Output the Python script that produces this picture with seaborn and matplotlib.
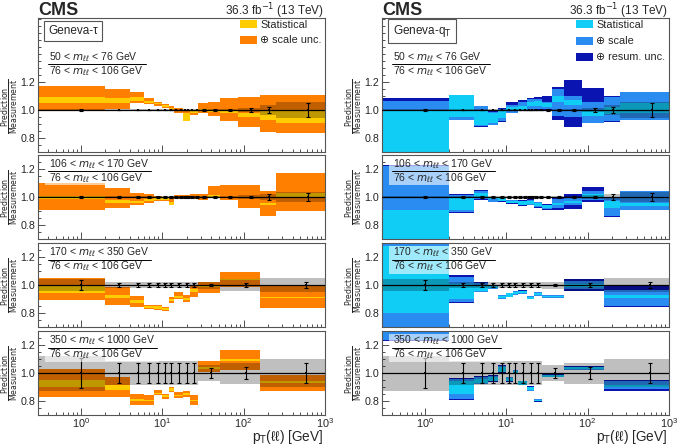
import numpy as np
import matplotlib
matplotlib.use('Agg')
import matplotlib.pyplot as plt
import seaborn as sns
from matplotlib.patches import Rectangle
from matplotlib.lines import Line2D
from matplotlib.ticker import MultipleLocator, FixedLocator

# pT(ll) bin edges [GeV]
edges_fine = [0, 2, 4, 6, 8, 10, 12, 14, 16, 18, 20, 22, 25, 28, 37, 52, 85, 160, 250, 1000]
edges_coarse = [0, 2, 4, 6, 8, 10, 12, 14, 18, 22, 28, 52, 160, 1000]

mass_labels = ['50 < $m_{\\ell\\ell}$ < 76 GeV', '106 < $m_{\\ell\\ell}$ < 170 GeV',
               '170 < $m_{\\ell\\ell}$ < 350 GeV', '350 < $m_{\\ell\\ell}$ < 1000 GeV']
ref_label = '76 < $m_{\\ell\\ell}$ < 106 GeV'

# measurement uncertainty (grey band) and data error bars
meas_unc_50 = [0.006, 0.004, 0.004, 0.004, 0.004, 0.004, 0.004, 0.004, 0.004, 0.004, 0.004, 0.004, 0.004, 0.005, 0.006, 0.01, 0.015, 0.035, 0.06]
meas_err_50 = [0.004, 0.003, 0.003, 0.003, 0.003, 0.003, 0.003, 0.003, 0.003, 0.003, 0.003, 0.003, 0.003, 0.004, 0.005, 0.008, 0.012, 0.023, 0.05]
meas_unc_106 = [0.01, 0.005, 0.005, 0.005, 0.005, 0.005, 0.005, 0.005, 0.005, 0.005, 0.005, 0.005, 0.005, 0.006, 0.007, 0.008, 0.012, 0.02, 0.035]
meas_err_106 = [0.008, 0.004, 0.004, 0.004, 0.004, 0.004, 0.004, 0.004, 0.004, 0.004, 0.004, 0.004, 0.004, 0.005, 0.006, 0.006, 0.01, 0.018, 0.027]
meas_unc_170 = [0.045, 0.02, 0.02, 0.02, 0.02, 0.02, 0.02, 0.02, 0.02, 0.02, 0.025, 0.04, 0.05]
meas_err_170 = [0.035, 0.012, 0.012, 0.012, 0.012, 0.012, 0.012, 0.012, 0.012, 0.012, 0.01, 0.015, 0.02]
meas_unc_350 = [0.125, 0.085, 0.085, 0.085, 0.085, 0.085, 0.085, 0.085, 0.085, 0.085, 0.06, 0.075, 0.1]
meas_err_350 = [0.11, 0.07, 0.07, 0.07, 0.07, 0.07, 0.07, 0.07, 0.07, 0.07, 0.035, 0.04, 0.07]

# Geneva-tau / measurement
tau_50_scale_lo = [0.99, 1.01, 1.05, 1.04, 1.03, 1.012, 0.995, 0.978, 0.978, 0.97, 0.97, 0.965, 0.965, 0.975, 0.955, 0.92, 0.88, 0.845, 0.835]
tau_50_scale_hi = [1.17, 1.148, 1.125, 1.085, 1.06, 1.045, 1.025, 1.012, 1.012, 1.0, 1.0, 1.0, 1.0, 1.05, 1.06, 1.085, 1.095, 1.105, 1.11]
tau_50_stat_lo = [1.05, 1.052, 1.067, 1.052, 1.04, 1.022, 1.005, 0.99, 0.99, 0.918, 0.918, 0.978, 0.978, 0.99, 0.985, 0.975, 0.952, 0.93, 0.905]
tau_50_stat_hi = [1.09, 1.083, 1.09, 1.067, 1.052, 1.034, 1.016, 1.0, 1.0, 0.976, 0.976, 0.99, 0.99, 1.005, 1.0, 0.99, 0.978, 0.99, 1.0]

tau_106_scale_lo = [0.91, 0.92, 0.945, 0.957, 0.97, 0.975, 0.945, 0.985, 0.985, 0.985, 0.985, 0.985, 0.985, 0.98, 0.993, 0.98, 0.92, 0.862, 0.9]
tau_106_scale_hi = [1.1, 1.064, 1.03, 1.02, 1.01, 1.0, 1.0, 1.015, 1.015, 1.015, 1.015, 1.02, 1.02, 1.02, 1.076, 1.083, 1.085, 1.04, 1.17]
tau_106_stat_lo = [0.985, 0.957, 0.96, 0.97, 0.98, 0.978, 0.945, 0.99, 0.99, 0.99, 0.99, 0.99, 0.99, 0.99, 1.0, 0.99, 0.99, 0.945, 0.99]
tau_106_stat_hi = [1.005, 0.98, 0.975, 0.985, 0.99, 0.99, 0.965, 1.0, 1.0, 1.0, 1.0, 1.0, 1.0, 1.0, 1.012, 1.0, 1.0, 0.958, 1.03]

tau_170_scale_lo = [0.89, 0.857, 0.84, 0.826, 0.82, 0.817, 0.869, 0.898, 0.88, 0.917, 0.94, 0.988, 0.833]
tau_170_scale_hi = [1.05, 0.988, 0.92, 0.857, 0.855, 0.84, 0.912, 0.948, 0.93, 1.0, 1.024, 1.095, 1.0]
tau_170_stat_lo = [0.945, 0.905, 0.874, 0.835, 0.83, 0.825, 0.885, 0.907, 0.895, 0.95, 0.985, 1.035, 0.905]
tau_170_stat_hi = [1.0, 0.929, 0.893, 0.85, 0.85, 0.835, 0.9, 0.921, 0.91, 0.97, 1.0, 1.045, 0.912]

tau_350_scale_lo = [0.83, 0.83, 0.77, 0.77, 0.84, 0.817, 0.864, 0.82, 0.83, 0.77, 1.007, 1.02, 0.87]
tau_350_scale_hi = [1.03, 0.97, 0.852, 0.84, 0.876, 0.852, 0.9, 0.864, 0.87, 0.84, 1.083, 1.162, 0.983]
tau_350_stat_lo = [0.9, 0.876, 0.797, 0.8, 0.85, 0.83, 0.875, 0.835, 0.845, 0.8, 1.03, 1.083, 0.93]
tau_350_stat_hi = [0.95, 0.912, 0.817, 0.81, 0.86, 0.84, 0.89, 0.845, 0.855, 0.81, 1.043, 1.102, 0.94]

# Geneva-qT / measurement
qt_50_stat_lo = [0.6, 0.952, 0.89, 0.905, 0.94, 0.99, 0.99, 1.0, 1.0, 1.03, 1.03, 1.03, 1.03, 1.02, 1.06, 1.035, 0.96, 0.97, 0.975]
qt_50_stat_hi = [1.0, 1.105, 1.0, 0.976, 0.99, 1.02, 1.02, 1.025, 1.025, 1.055, 1.055, 1.065, 1.065, 1.05, 1.1, 1.07, 1.0, 1.02, 1.05]
qt_50_scale_lo = [0.55, 0.93, 0.885, 0.893, 0.92, 0.98, 0.98, 0.995, 0.995, 1.0, 1.0, 1.01, 1.01, 1.01, 0.96, 0.95, 0.905, 0.92, 0.93]
qt_50_scale_hi = [1.067, 1.108, 1.025, 0.988, 1.01, 1.035, 1.035, 1.06, 1.06, 1.075, 1.075, 1.08, 1.08, 1.06, 1.15, 1.1, 1.06, 1.095, 1.13]
qt_50_resum_lo = [0.53, 0.925, 0.88, 0.89, 0.915, 0.975, 0.975, 0.99, 0.99, 0.99, 0.99, 1.0, 1.0, 0.99, 0.93, 0.88, 0.91, 0.915, 0.925]
qt_50_resum_hi = [1.084, 1.11, 1.03, 0.99, 1.015, 1.055, 1.055, 1.07, 1.07, 1.085, 1.085, 1.09, 1.09, 1.1, 1.165, 1.215, 1.155, 1.1, 1.132]

qt_106_stat_lo = [0.5, 0.91, 0.99, 0.985, 0.975, 0.96, 0.96, 0.945, 0.945, 0.95, 0.95, 0.933, 0.933, 0.925, 0.94, 0.96, 0.99, 0.92, 0.935]
qt_106_stat_hi = [0.91, 1.0, 1.03, 1.0, 0.99, 0.975, 0.975, 0.97, 0.97, 0.975, 0.975, 0.957, 0.957, 0.94, 0.96, 0.975, 1.02, 0.97, 0.96]
qt_106_scale_lo = [0.45, 0.89, 0.985, 0.965, 0.97, 0.955, 0.955, 0.94, 0.94, 0.945, 0.945, 0.93, 0.93, 0.914, 0.925, 0.945, 0.98, 0.865, 0.91]
qt_106_scale_hi = [1.22, 1.015, 1.04, 0.998, 0.995, 0.98, 0.98, 0.975, 0.975, 0.98, 0.98, 0.962, 0.962, 0.945, 0.985, 0.99, 1.04, 0.995, 1.04]
qt_106_resum_lo = [0.44, 0.885, 0.98, 0.962, 0.967, 0.95, 0.95, 0.935, 0.935, 0.94, 0.94, 0.925, 0.925, 0.91, 0.91, 0.915, 0.965, 0.86, 0.905]
qt_106_resum_hi = [1.232, 1.022, 1.048, 1.0, 0.998, 0.982, 0.982, 0.978, 0.978, 0.985, 0.985, 0.965, 0.965, 0.948, 1.0, 1.02, 1.07, 1.0, 1.045]

qt_170_stat_lo = [0.8, 0.9, 0.96, 0.98, 0.905, 0.917, 0.935, 0.94, 0.902, 0.926, 0.915, 0.985, 0.905]
qt_170_stat_hi = [1.275, 1.01, 0.99, 0.995, 0.925, 0.94, 0.952, 0.957, 0.917, 0.945, 0.925, 1.005, 0.93]
qt_170_scale_lo = [0.6, 0.88, 0.952, 0.975, 0.9, 0.915, 0.932, 0.938, 0.9, 0.924, 0.91, 0.97, 0.85]
qt_170_scale_hi = [1.4, 1.06, 1.012, 1.0, 0.93, 0.942, 0.955, 0.96, 0.92, 0.948, 0.93, 1.03, 0.965]
qt_170_resum_lo = [0.58, 0.875, 0.95, 0.972, 0.898, 0.913, 0.93, 0.936, 0.898, 0.922, 0.905, 0.96, 0.845]
qt_170_resum_hi = [1.42, 1.07, 1.024, 1.002, 0.932, 0.944, 0.957, 0.962, 0.922, 0.95, 0.932, 1.04, 0.99]

qt_350_stat_lo = [1.3, 0.85, 0.93, 0.945, 1.01, 0.945, 1.0, 0.917, 0.876, 0.8, 0.975, 1.03, 0.9]
qt_350_stat_hi = [1.7, 0.945, 0.96, 0.97, 1.04, 0.965, 1.015, 0.94, 0.9, 0.81, 0.985, 1.04, 0.915]
qt_350_scale_lo = [1.235, 0.815, 0.925, 0.94, 1.005, 0.94, 0.995, 0.915, 0.874, 0.798, 0.97, 1.025, 0.885]
qt_350_scale_hi = [1.75, 0.955, 0.97, 0.98, 1.05, 0.97, 1.02, 0.942, 0.902, 0.812, 0.988, 1.045, 0.945]
qt_350_resum_lo = [1.23, 0.81, 0.92, 0.935, 1.0, 0.937, 0.992, 0.913, 0.872, 0.796, 0.968, 1.02, 0.87]
qt_350_resum_hi = [1.76, 0.962, 0.978, 0.985, 1.055, 0.972, 1.022, 0.944, 0.904, 0.814, 0.99, 1.05, 0.95]

ORANGE = '#ff8000'
YELLOW = '#ffcc00'
CYAN = '#0fcdf5'
AZURE = '#2a8cf0'
NAVY = '#0a14b0'

W, H = 677, 444
COLS = [(38, 325), (382, 669)]
ROWS = [(18, 152, 1.657), (155, 239, 1.3), (243, 327, 1.3), (331, 415, 1.3)]

sns.set_theme(style='ticks')
plt.rcParams['font.family'] = ['Liberation Sans', 'DejaVu Sans']
plt.rcParams['mathtext.fontset'] = 'dejavusans'


def fy(y):
    return 1 - y / H


def draw_panel(ax, edges, bands, unc, err):
    edges = np.asarray(edges, float)
    left = np.maximum(edges[:-1], 0.1)
    width = edges[1:] - left
    for lo, hi, color in bands:
        lo = np.asarray(lo)
        hi = np.asarray(hi)
        ax.bar(left, hi - lo, width=width, bottom=lo, align='edge',
               color=color, linewidth=0, zorder=1)
    unc = np.asarray(unc)
    ax.bar(left, 2 * unc, width=width, bottom=1 - unc, align='edge',
           color='black', alpha=0.25, linewidth=0, zorder=2)
    ax.axhline(1.0, color='black', lw=0.9, zorder=3)
    centers = 0.5 * (edges[:-1] + edges[1:])
    ones = np.ones_like(centers)
    ax.errorbar(centers, ones, yerr=err, fmt='none', ecolor='black',
                elinewidth=0.8, capsize=1.3, capthick=0.8, zorder=4)
    sns.scatterplot(x=centers, y=ones, ax=ax, color='black', marker='s',
                    s=3, linewidth=0, zorder=5, legend=False)


fig = plt.figure(figsize=(W / 100, H / 100), dpi=100)

panels = [
    (0, 0, edges_fine, [(tau_50_scale_lo, tau_50_scale_hi, ORANGE), (tau_50_stat_lo, tau_50_stat_hi, YELLOW)], meas_unc_50, meas_err_50),
    (1, 0, edges_fine, [(tau_106_scale_lo, tau_106_scale_hi, ORANGE), (tau_106_stat_lo, tau_106_stat_hi, YELLOW)], meas_unc_106, meas_err_106),
    (2, 0, edges_coarse, [(tau_170_scale_lo, tau_170_scale_hi, ORANGE), (tau_170_stat_lo, tau_170_stat_hi, YELLOW)], meas_unc_170, meas_err_170),
    (3, 0, edges_coarse, [(tau_350_scale_lo, tau_350_scale_hi, ORANGE), (tau_350_stat_lo, tau_350_stat_hi, YELLOW)], meas_unc_350, meas_err_350),
    (0, 1, edges_fine, [(qt_50_resum_lo, qt_50_resum_hi, NAVY), (qt_50_scale_lo, qt_50_scale_hi, AZURE), (qt_50_stat_lo, qt_50_stat_hi, CYAN)], meas_unc_50, meas_err_50),
    (1, 1, edges_fine, [(qt_106_resum_lo, qt_106_resum_hi, NAVY), (qt_106_scale_lo, qt_106_scale_hi, AZURE), (qt_106_stat_lo, qt_106_stat_hi, CYAN)], meas_unc_106, meas_err_106),
    (2, 1, edges_coarse, [(qt_170_resum_lo, qt_170_resum_hi, NAVY), (qt_170_scale_lo, qt_170_scale_hi, AZURE), (qt_170_stat_lo, qt_170_stat_hi, CYAN)], meas_unc_170, meas_err_170),
    (3, 1, edges_coarse, [(qt_350_resum_lo, qt_350_resum_hi, NAVY), (qt_350_scale_lo, qt_350_scale_hi, AZURE), (qt_350_stat_lo, qt_350_stat_hi, CYAN)], meas_unc_350, meas_err_350),
]

for row, col, edges, bands, unc, err in panels:
    x0, x1 = COLS[col]
    y0, y1, ytop = ROWS[row]
    ax = fig.add_axes([x0 / W, fy(y1), (x1 - x0) / W, (y1 - y0) / H])
    draw_panel(ax, edges, bands, unc, err)
    ax.set_xscale('log')
    ax.set_xlim(0.3, 1000)
    ax.set_ylim(0.7, ytop)
    ax.yaxis.set_major_locator(FixedLocator([0.8, 1.0, 1.2]))
    ax.yaxis.set_minor_locator(MultipleLocator(0.05))
    ax.tick_params(which='both', direction='in', labelsize=7.7, width=0.6,
                   color='#333333', top=False, right=False)
    ax.tick_params(which='major', length=5)
    ax.tick_params(which='minor', length=2.5)
    ax.tick_params(axis='y', pad=2)
    ax.tick_params(axis='x', pad=1, labelsize=7.8)
    for sp in ax.spines.values():
        sp.set_color('#555555')
        sp.set_linewidth(0.8)
    if row < 3:
        ax.tick_params(axis='x', labelbottom=False)
    ax.set_ylabel('$\\dfrac{\\mathrm{Prediction}}{\\mathrm{Measurement}}$', fontsize=5.6)
    yfrac = (1.0 - 0.7) / (ytop - 0.7)
    ax.yaxis.set_label_coords(-0.062, yfrac + (0.03 if row == 0 else 0.0))

# headers and x-axis titles
for col, (x0, x1) in enumerate(COLS):
    fig.text(x0 / W, fy(15), 'CMS', fontsize=13, fontweight='bold', ha='left', va='baseline')
    fig.text((x1 - 1) / W, fy(15), '36.3 fb$^{-1}$ (13 TeV)', fontsize=8.5, ha='right', va='baseline')
    fig.text((x1 - 2) / W, fy(440.5), 'p$_{\\mathrm{T}}$(ℓℓ) [GeV]', fontsize=9.8, ha='right', va='baseline')

fig.text(73 / W, fy(31), 'Geneva-τ', fontsize=8.5, ha='center', va='center',
         bbox=dict(boxstyle='square,pad=0.35', fc='white', ec='#555555', lw=0.8))
fig.text(422 / W, fy(31), 'Geneva-q$_{\\mathrm{T}}$', fontsize=8.5, ha='center', va='center',
         bbox=dict(boxstyle='square,pad=0.35', fc='white', ec='#555555', lw=0.8))

# legends
legend_left = [(YELLOW, 'Statistical'), (ORANGE, '⊕ scale unc.')]
legend_right = [(CYAN, 'Statistical'), (AZURE, '⊕ scale'), (NAVY, '⊕ resum. unc.')]
for px, entries, rows_y in [(240, legend_left, [24.5, 40]), (576, legend_right, [24.5, 41, 57])]:
    for (color, label), yc in zip(entries, rows_y):
        fig.add_artist(Rectangle((px / W, fy(yc + 4)), 17 / W, 8 / H,
                                 transform=fig.transFigure, color=color, lw=0))
        fig.text((px + 20) / W, fy(yc), label, fontsize=7.8, ha='left', va='center')

# mass-bin fraction labels
frac_texts = []
for col, (x0, x1) in enumerate(COLS):
    for row, (y0, y1, ytop) in enumerate(ROWS):
        base = 39 if row == 0 else 9.5
        tx = x0 + 11
        t1 = fig.text(tx / W, fy(y0 + base), mass_labels[row], fontsize=7.5, ha='left', va='center', zorder=4)
        t2 = fig.text(tx / W, fy(y0 + base + 14), ref_label, fontsize=7.5, ha='left', va='center', zorder=4)
        frac_texts.append((row, tx, y0 + base, t1, t2))

fig.canvas.draw()
renderer = fig.canvas.get_renderer()
for row, tx, ynum, t1, t2 in frac_texts:
    right = max(t1.get_window_extent(renderer).x1, t2.get_window_extent(renderer).x1)
    fig.add_artist(Line2D([(tx - 1) / W, (right + 2) / W], [fy(ynum + 7), fy(ynum + 7)],
                          transform=fig.transFigure, color='black', lw=0.7, zorder=3))
    if row > 0:
        fig.add_artist(Rectangle(((tx - 4) / W, fy(ynum + 21)), (right - tx + 8) / W, 28 / H,
                                 transform=fig.transFigure, fc='white', alpha=0.6, lw=0, zorder=1))

fig.savefig('out.png', dpi=100)
